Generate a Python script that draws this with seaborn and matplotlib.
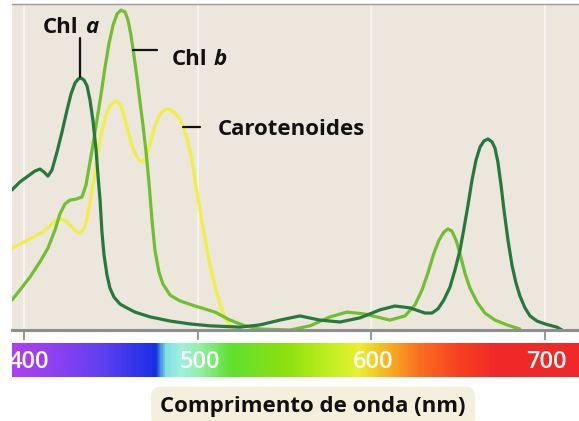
import numpy as np
import pandas as pd
import matplotlib
matplotlib.use("Agg")
import matplotlib.pyplot as plt
import matplotlib.transforms as mtransforms
from matplotlib.colors import LinearSegmentedColormap
import seaborn as sns

# ---------------- data (wavelength nm, relative absorbance) ----------------
chla_nm = [393.1, 397.7, 402.3, 406.3, 409.2, 411.5, 413.8, 416.1, 419.0, 421.9,
           424.8, 427.1, 429.4, 431.1, 432.8, 434.6, 436.3, 438.0, 439.7, 441.5,
           442.6, 443.8, 444.9, 446.1, 447.8, 449.5, 451.8, 455.3, 459.3, 463.9,
           472.6, 484.1, 495.6, 507.1, 524.4, 535.9, 547.4, 558.9, 570.4, 582.0,
           593.5, 605.0, 613.6, 622.3, 630.9, 634.9, 638.4, 641.8, 645.3, 648.2,
           651.1, 653.4, 655.7, 658.0, 660.3, 662.6, 664.9, 667.2, 669.5, 671.2,
           672.9, 674.7, 676.4, 678.7, 681.0, 683.3, 685.6, 688.5, 691.4, 695.4,
           700.0, 704.0, 706.9, 709.8]
chla_abs = [0.438, 0.463, 0.481, 0.497, 0.503, 0.494, 0.481, 0.500, 0.556, 0.619,
            0.688, 0.738, 0.772, 0.784, 0.788, 0.781, 0.763, 0.719, 0.656, 0.563,
            0.484, 0.406, 0.306, 0.234, 0.172, 0.131, 0.103, 0.081, 0.069, 0.056,
            0.041, 0.028, 0.019, 0.013, 0.009, 0.016, 0.031, 0.044, 0.031, 0.025,
            0.038, 0.063, 0.075, 0.069, 0.053, 0.053, 0.066, 0.094, 0.134, 0.188,
            0.250, 0.319, 0.391, 0.469, 0.531, 0.572, 0.591, 0.597, 0.588, 0.569,
            0.525, 0.453, 0.375, 0.281, 0.203, 0.147, 0.106, 0.069, 0.044, 0.028,
            0.019, 0.013, 0.009, 0.000]

chlb_nm = [393.1, 397.7, 403.5, 409.2, 413.8, 417.9, 420.7, 423.6, 426.5, 429.9,
           433.4, 435.7, 437.4, 439.7, 442.0, 444.3, 446.6, 448.9, 451.3, 453.6,
           455.9, 458.2, 459.9, 461.6, 463.3, 465.1, 466.8, 468.5, 470.3, 472.0,
           473.7, 475.4, 477.7, 480.0, 484.1, 489.8, 498.5, 510.0, 518.6, 527.3,
           535.9, 553.2, 564.7, 576.2, 586.0, 596.3, 610.7, 619.4, 625.1, 629.2,
           632.6, 636.1, 639.0, 641.8, 644.1, 646.4, 648.8, 651.1, 653.9, 656.8,
           660.8, 665.4, 671.2, 678.1, 685.6]
chlb_abs = [0.094, 0.125, 0.166, 0.213, 0.256, 0.313, 0.363, 0.394, 0.406, 0.409,
            0.416, 0.453, 0.506, 0.578, 0.656, 0.734, 0.819, 0.894, 0.953, 0.988,
            1.000, 0.994, 0.969, 0.922, 0.859, 0.788, 0.713, 0.641, 0.556, 0.459,
            0.344, 0.250, 0.181, 0.144, 0.109, 0.091, 0.075, 0.056, 0.031, 0.013,
            0.003, 0.000, 0.013, 0.041, 0.056, 0.050, 0.031, 0.044, 0.078, 0.125,
            0.178, 0.241, 0.281, 0.306, 0.316, 0.309, 0.281, 0.238, 0.178, 0.131,
            0.088, 0.053, 0.031, 0.016, 0.003]

car_nm = [393.1, 398.9, 404.6, 410.4, 415.0, 418.4, 421.3, 424.2, 427.1, 429.9,
          432.2, 434.6, 436.3, 438.0, 440.3, 442.6, 444.9, 447.2, 449.5, 451.8,
          453.6, 455.3, 457.0, 459.3, 461.6, 463.9, 466.2, 468.5, 470.8, 473.1,
          475.4, 477.7, 480.0, 482.3, 484.6, 487.0, 489.3, 491.6, 493.9, 496.2,
          498.5, 500.8, 503.1, 505.4, 507.7, 510.6, 513.4, 516.3, 519.8]
car_abs = [0.256, 0.272, 0.288, 0.306, 0.325, 0.341, 0.347, 0.341, 0.325, 0.309,
           0.303, 0.316, 0.350, 0.397, 0.475, 0.556, 0.625, 0.672, 0.700, 0.713,
           0.716, 0.706, 0.681, 0.634, 0.588, 0.553, 0.531, 0.525, 0.547, 0.594,
           0.638, 0.669, 0.684, 0.691, 0.688, 0.678, 0.663, 0.638, 0.600, 0.547,
           0.469, 0.391, 0.319, 0.250, 0.188, 0.125, 0.072, 0.031, 0.006]

pigments = ["Carotenoides", "Chl b", "Chl a"]
colors = {"Carotenoides": "#f0ef44", "Chl b": "#70c02c", "Chl a": "#247a3c"}
ticks = [400, 500, 600, 700]
tick_labels = ["400", "500", "600", "700"]
xlabel = "Comprimento de onda (nm)"

df = pd.concat([
    pd.DataFrame({"nm": car_nm, "A": car_abs, "pigment": "Carotenoides"}),
    pd.DataFrame({"nm": chlb_nm, "A": chlb_abs, "pigment": "Chl b"}),
    pd.DataFrame({"nm": chla_nm, "A": chla_abs, "pigment": "Chl a"}),
], ignore_index=True)

# ---------------- figure ----------------
sns.set_style("white")
plt.rcParams["font.family"] = ["Open Sans", "DejaVu Sans"]

W, H = 579, 421
fig = plt.figure(figsize=(W / 100, H / 100), dpi=100)
fig.patch.set_facecolor("white")

XMIN, XMAX = 393.1, 719.6
ax = fig.add_axes([12 / W, (H - 330) / H, 567 / W, 326 / H])
ax.set_facecolor("#ece6dd")

sns.lineplot(data=df, x="nm", y="A", hue="pigment", hue_order=pigments,
             palette=colors, estimator=None, sort=False, legend=False,
             linewidth=2.3, ax=ax, solid_capstyle="round", solid_joinstyle="round")

ax.set_xlim(XMIN, XMAX)
ax.set_ylim(0, 1.019)
for t in ticks:
    ax.axvline(t, color="#f8f5f1", lw=1.4, zorder=0)
ax.set_xticks(ticks)
ax.set_xticklabels([])
ax.set_yticks([])
ax.set_xlabel("")
ax.set_ylabel("")
ax.tick_params(axis="x", direction="out", length=7, width=1.3, color="#8e8e8e", bottom=True)
for s in ["left", "right"]:
    ax.spines[s].set_visible(False)
ax.spines["bottom"].set_color("#8e8e8e")
ax.spines["bottom"].set_linewidth(2.2)
ax.spines["top"].set_color("#9a9a9a")
ax.spines["top"].set_linewidth(1.0)

# annotations
fs = 16
ax.text(410.9, 0.928, "Chl", fontsize=fs, fontweight="bold", color="#111111", va="baseline")
ax.text(435.3, 0.928, "a", fontsize=fs, fontweight="bold", style="italic", color="#111111", va="baseline")
ax.plot([432.2, 432.2], [0.79, 0.912], color="#111111", lw=1.6)

ax.text(485.2, 0.828, "Chl", fontsize=fs, fontweight="bold", color="#111111", va="baseline")
ax.text(509.0, 0.828, "b", fontsize=fs, fontweight="bold", style="italic", color="#111111", va="baseline")
ax.plot([462.8, 476.6], [0.875, 0.875], color="#111111", lw=1.6)

ax.text(511.7, 0.609, "Carotenoides", fontsize=fs, fontweight="bold", color="#111111", va="baseline")
ax.plot([491.6, 501.3], [0.634, 0.634], color="#111111", lw=1.6)

# ---------------- spectrum bar ----------------
cax = fig.add_axes([12 / W, (H - 377) / H, 567 / W, 34 / H])
stops = [(393.1, "#b040f0"), (420.7, "#8840f2"), (443.8, "#6040f0"), (472.6, "#2030e8"),
         (475.4, "#1530e0"), (478.3, "#4a8ee0"), (481.2, "#80e0e0"), (489.8, "#a0f0e0"),
         (501.3, "#90f0a0"), (518.6, "#60e030"), (553.2, "#90e010"), (576.2, "#c0f020"),
         (592.9, "#e8f030"), (610.2, "#f8b020"), (628.0, "#f87020"), (651.0, "#f84020"),
         (674.1, "#f02828"), (719.6, "#f02828")]
cmap = LinearSegmentedColormap.from_list(
    "spec", [((w - XMIN) / (XMAX - XMIN), c) for w, c in stops])
grad = np.linspace(XMIN, XMAX, 600)[None, :]
cax.imshow(grad, aspect="auto", cmap=cmap, extent=[XMIN, XMAX, 0, 1],
           vmin=XMIN, vmax=XMAX, interpolation="bilinear")
cax.set_xlim(XMIN, XMAX)
cax.set_ylim(0, 1)
cax.axis("off")
trans = mtransforms.blended_transform_factory(cax.transData, cax.transAxes)
label_x = [403, 501, 601, 701]
for lx, lab in zip(label_x, tick_labels):
    cax.text(lx, 0.265, lab, transform=trans, ha="center", va="baseline",
             fontsize=17, fontweight="semibold", color="white", clip_on=True)

# ---------------- x label box ----------------
fig.text(313 / W, (H - 412) / H, xlabel, ha="center", va="baseline",
         fontsize=16, fontweight="bold", color="#111111",
         bbox=dict(boxstyle="round,pad=0.42,rounding_size=0.45", fc="#f4f0dc", ec="none"))

fig.savefig("out.png", dpi=100)
